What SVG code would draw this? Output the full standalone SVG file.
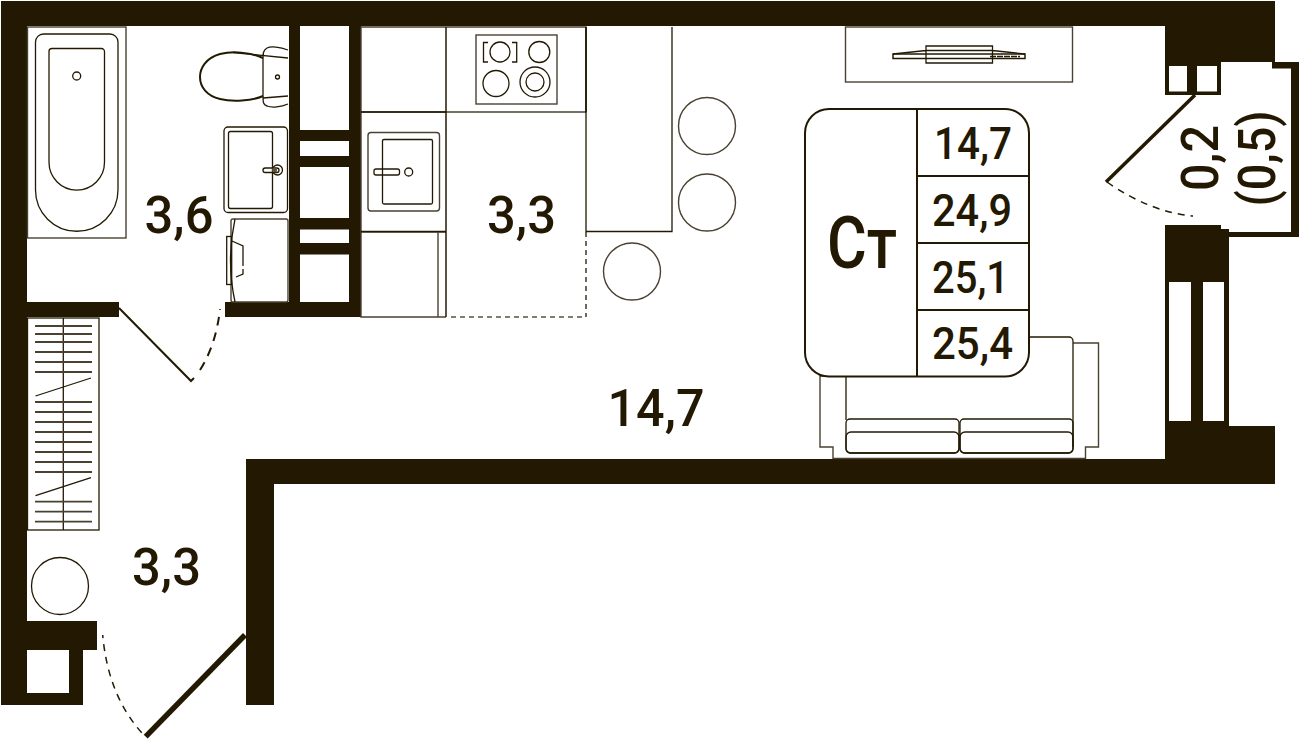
<svg xmlns="http://www.w3.org/2000/svg" width="1299" height="740" viewBox="0 0 1299 740">
<style>
.w{fill:#231903}
.l{fill:none;stroke:#231903;stroke-width:1.3}
.m{fill:none;stroke:#231903;stroke-width:2}
.g{fill:none;stroke:#4a4130;stroke-width:1.4}
.d{fill:none;stroke:#231903;stroke-width:1.5;stroke-dasharray:7 6}
text{font-family:"Roboto","Liberation Sans",sans-serif;fill:#231903;text-anchor:middle;font-weight:500}
.a{font-size:51px}
.t{font-size:45px;text-anchor:start}
</style>
<rect width="1299" height="740" fill="#fff"/>
<g id="walls">
<path class="w" fill-rule="evenodd" d="M1 1H1275V62H1165V26H27V302H119V317H27V621H97V650H83V705H1ZM27 650V693H69V650Z"/>
<rect class="w" x="225" y="302" width="136" height="15"/>
<rect class="w" x="289" y="26" width="11" height="280"/>
<rect class="w" x="349" y="26" width="12" height="280"/>
<rect class="w" x="300" y="130" width="49" height="11"/>
<rect class="w" x="300" y="156" width="49" height="11"/>
<rect class="w" x="300" y="218" width="49" height="11.500"/>
<rect class="w" x="300" y="243" width="49" height="11.500"/>
<path class="w" d="M246 459H1165V426H1275V484H274V705H246Z"/>
<path class="w" fill-rule="evenodd" d="M1165 62H1221V95H1165ZM1169 66V91.500H1187V66ZM1197 66V91.500H1217V66Z"/>
<path class="w" d="M1272 62H1299V237H1229V232H1291V68.500H1272Z"/>
<path class="w" fill-rule="evenodd" d="M1165 225H1221V229H1229V426H1165ZM1169 282V421H1191V282ZM1203 282V421H1224V282Z"/>
</g>
<g id="bath">
<rect class="g" x="27.500" y="27" width="98.500" height="211"/>
<path class="l" d="M35.500 42a8 8 0 0 1 8-8h66.500a8 8 0 0 1 8 8V190a41.250 41.250 0 0 1-82.500 0Z"/>
<path class="l" d="M49 51.500a3 3 0 0 1 3-3h49.500a3 3 0 0 1 3 3V162.300a27.750 27.750 0 0 1-55.500 0Z"/>
<circle class="l" cx="76.700" cy="76" r="4"/>
</g>
<g id="toilet">
<path class="m" d="M263 58C250 52 232 51 220 54C206 58 200 68 200 77C200 87 207 96 220 99C232 102 252 101 263 96"/>
<path class="l" d="M288 50C280 47 271 46 267 48C263 50 263 54 263 60V95C263 102 263 105 267 106C272 108 281 107 288 104M233 52.500L288 58M263 98L288 96"/>
<circle class="l" cx="277.500" cy="77" r="2"/>
</g>
<g id="basin">
<rect class="l" x="224" y="127" width="63.500" height="85.500" rx="4"/>
<rect class="l" x="228.500" y="131.500" width="44" height="77" rx="2"/>
<rect class="l" x="263" y="168" width="16" height="4.500" rx="2.200"/>
<circle class="l" cx="277.500" cy="170" r="5"/>
<circle cx="274.500" cy="170" r="2.500" fill="#5a5140"/>
</g>
<g id="washer">
<rect class="g" x="231" y="219" width="57" height="83" rx="2"/>
<path class="l" d="M235 219Q226 260 235 302"/>
<rect class="l" x="226.700" y="236.500" width="5" height="48" fill="#fff"/>
<path class="l" d="M232 241L243 246V266M243 269V274L236 277"/>
</g>
<g id="kitchen">
<path class="g" d="M361 27H586V112H361M361 232H446M361 27V317H446"/>
<path class="m" style="stroke-width:1.500" d="M446 27V317"/>
<path class="l" d="M361 112H446M361 231.500H446M586 27V112"/>
<path class="g" d="M438 232V317"/>
<path class="d" style="stroke-dasharray:5 4;stroke:#5a5140" d="M451 317H586"/>
<path class="d" style="stroke-dasharray:5 4;stroke-width:1.300" d="M586 232V317"/>
<path class="l" d="M586 27V231.500H672V27"/>
<rect class="g" x="368" y="132.500" width="71.500" height="78.500" rx="3"/>
<rect class="l" x="382.500" y="139.500" width="50" height="64.500" rx="1.500"/>
<rect class="l" x="374" y="169" width="25.500" height="6" rx="2"/>
<circle class="l" cx="408.700" cy="172" r="4"/>
</g>
<g id="hob">
<rect class="g" x="476" y="35" width="81" height="69"/>
<circle class="l" cx="500" cy="52" r="10"/>
<circle class="l" cx="539.300" cy="52" r="10.500"/>
<circle class="l" cx="496" cy="83.500" r="13"/>
<circle class="l" cx="535" cy="82" r="15"/>
<circle class="l" cx="535" cy="82" r="9"/>
<path class="l" d="M488 42.500H483.500V62H488M512 42.500H516.700V62H512"/>
</g>
<g id="stools">
<circle class="g" cx="707" cy="126" r="28.500"/>
<circle class="g" cx="707" cy="202.500" r="28.500"/>
<circle class="g" cx="632" cy="271.500" r="28.500"/>
<circle class="l" cx="60" cy="586" r="28.500"/>
</g>
<g id="tv">
<rect class="g" x="845.500" y="27" width="227" height="55"/>
<path class="l" d="M926 46H992.500V63H926ZM926 50.500H992.500L1025 54M926 50.500L893 54"/>
<rect class="m" style="stroke-width:1.500" x="893" y="54" width="132" height="4.500" fill="#fff"/>
<path class="l" d="M990 56.500H1020" stroke-dasharray="6 1"/>
</g>
<g id="sofa">
<path class="g" d="M846 376H820V447H833V458.500H1085.500V447H1098.500V343H1073"/>
<path class="l" d="M1029 337H1069a4 4 0 0 1 4 4V447M846 376V420"/>
<rect class="l" x="846" y="419" width="113" height="34" rx="4"/>
<rect class="l" x="960" y="419" width="113" height="34" rx="4"/>
<rect class="l" x="846" y="432" width="113" height="21" rx="5" fill="#fff"/>
<rect class="l" x="960" y="432" width="113" height="21" rx="5" fill="#fff"/>
</g>
<g id="card">
<rect x="805" y="109" width="224" height="267.500" rx="24" fill="#fff" stroke="#231903" stroke-width="2"/>
<path class="m" d="M917 109V376.500M917 176H1029M917 243H1029M917 310H1029"/>
<text x="862" y="268" font-size="72" textLength="70" lengthAdjust="spacingAndGlyphs">Ст</text>
<text class="t" x="934" y="159" textLength="78" lengthAdjust="spacingAndGlyphs">14,7</text>
<text class="t" x="932" y="226" textLength="80" lengthAdjust="spacingAndGlyphs">24,9</text>
<text class="t" x="932" y="293" textLength="77" lengthAdjust="spacingAndGlyphs">25,1</text>
<text class="t" x="932" y="359" textLength="81" lengthAdjust="spacingAndGlyphs">25,4</text>
</g>
<g id="doors">
<path class="m" d="M119 308L191 381L194 378"/>
<path class="d" style="stroke-width:2;stroke-dasharray:9 7" d="M200 370Q216 345 220 309"/>
<path class="m" style="stroke-width:5.500" d="M145.700 736.700L245 635"/>
<path class="d" d="M141.700 732.700Q108 695 102.700 635"/>
<path class="m" style="stroke-width:3.500" d="M1195 95L1106 182"/>
<path class="d" d="M1107 182Q1150 212 1193 216"/>
</g>
<g id="storage">
<rect class="l" x="27.500" y="318" width="71.500" height="212"/>
<path class="l" d="M63.300 318V530M35.500 396L91 378M35.500 495.700L91 477.700"/>
<path class="g" style="stroke-width:1.800" d="M35 326H92M35 334H92M35 342H92M35 352H92M35 362H92M35 372H92M35 402H92M35 412H92M35 422H92M35 432H92M35 442H92M35 452H92M35 462H92M35 472H92M35 501.700H92M35 511.700H92M35 521.700H92"/>
</g>
<g id="labels">
<text class="a" x="179" y="233" textLength="69" lengthAdjust="spacingAndGlyphs">3,6</text>
<text class="a" x="521.500" y="233" textLength="69" lengthAdjust="spacingAndGlyphs">3,3</text>
<text class="a" x="656" y="426" textLength="97" lengthAdjust="spacingAndGlyphs">14,7</text>
<text class="a" x="166.500" y="585" textLength="69" lengthAdjust="spacingAndGlyphs">3,3</text>
<text class="a" transform="translate(1218 158) rotate(-90)" textLength="66" lengthAdjust="spacingAndGlyphs">0,2</text>
<text class="a" transform="translate(1275 158.500) rotate(-90)" textLength="96" lengthAdjust="spacingAndGlyphs">(0,5)</text>
</g>
</svg>
